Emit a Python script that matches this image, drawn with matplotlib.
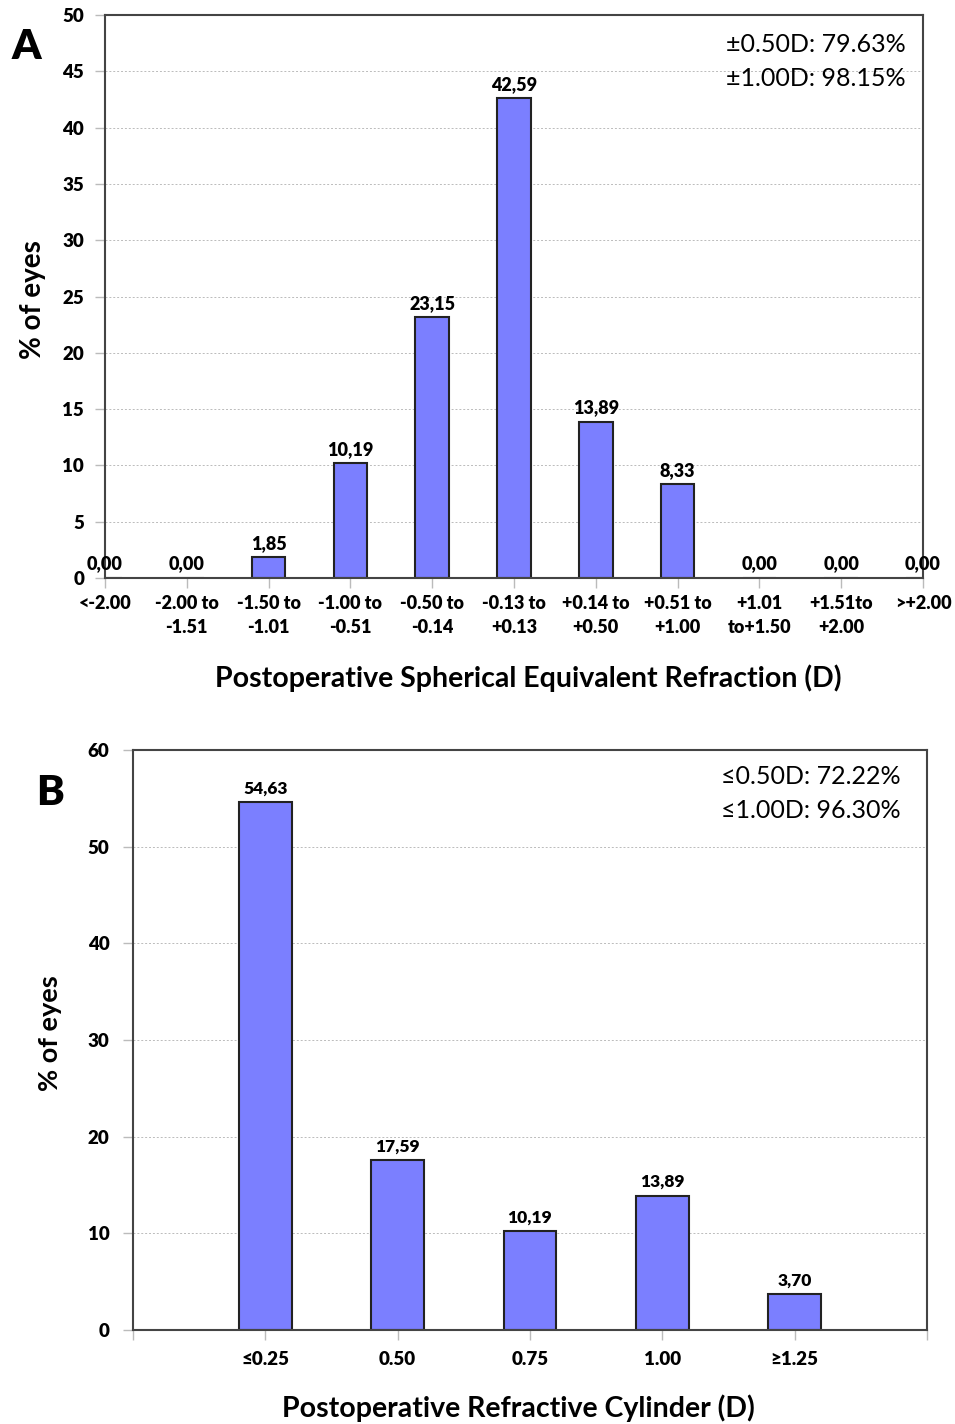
import matplotlib
matplotlib.use('Agg')
import matplotlib.pyplot as plt

plt.rcParams['font.family'] = ['Lato', 'DejaVu Sans']

''' panel A data '''
sphLabels = ['<-2.00', '-2.00 to\n-1.51', '-1.50 to\n-1.01', '-1.00 to\n-0.51',
             '-0.50 to\n-0.14', '-0.13 to\n+0.13', '+0.14 to\n+0.50', '+0.51 to\n+1.00',
             '+1.01\nto+1.50', '+1.51to\n+2.00', '>+2.00']
sphValues = [0.00, 0.00, 1.85, 10.19, 23.15, 42.59, 13.89, 8.33, 0.00, 0.00, 0.00]
sphNote = ['\u00b10.50D: 79.63%', '\u00b11.00D: 98.15%']

''' panel B data '''
cylLabels = ['\u22640.25', '0.50', '0.75', '1.00', '\u22651.25']
cylValues = [54.63, 17.59, 10.19, 13.89, 3.70]
cylNote = ['\u22640.50D: 72.22%', '\u22641.00D: 96.30%']

W, H = 955, 1424
barColor = '#7b7fff'
edgeColor = '#222222'
spineColor = '#444444'
smallWeight = 'heavy'


def fx(px):
    return px / W


def fy(py):
    return 1 - py / H


def styleAxes(ax, ymax, ystep, ylabelSize):
    ax.set_ylim(0, ymax)
    ax.set_yticks(range(0, ymax + 1, ystep))
    ax.yaxis.grid(True, color='#bbbbbb', linestyle=(0, (2, 2)), linewidth=0.7)
    ax.set_axisbelow(True)
    for s in ax.spines.values():
        s.set_color(spineColor)
        s.set_linewidth(1.5)
    ax.tick_params(axis='both', direction='out', length=7, color='#bbbbbb', width=1)
    for t in ax.get_yticklabels():
        t.set_fontweight(smallWeight)
        t.set_fontsize(ylabelSize)


def label(v):
    return ('%.2f' % v).replace('.', ',')


fig = plt.figure(figsize=(W / 100, H / 100), dpi=100)

# panel A
axA = fig.add_axes([fx(105), fy(578), fx(923) - fx(105), fy(15) - fy(578)])
xA = list(range(len(sphValues)))
axA.bar(xA, sphValues, width=0.41, color=barColor, edgecolor=edgeColor, linewidth=1.5)
axA.set_xlim(0, len(sphValues) - 1)
styleAxes(axA, 50, 5, 13.5)
axA.set_xticks(xA)
axA.set_xticklabels(sphLabels, fontsize=13, fontweight=smallWeight, linespacing=1.5)
axA.tick_params(axis='y', pad=8)
axA.tick_params(axis='x', pad=5)
for x, v in zip(xA, sphValues):
    axA.annotate(label(v), (x, v), xytext=(0, 4), textcoords='offset points',
                 ha='center', va='bottom', fontsize=13, fontweight=smallWeight)
fig.text(fx(906), fy(45), sphNote[0], ha='right', va='center', fontsize=18)
fig.text(fx(906), fy(79), sphNote[1], ha='right', va='center', fontsize=18)
fig.text(fx(33), fy(300), '% of eyes', rotation=90, ha='center', va='center',
         fontsize=20, fontweight='bold')
fig.text(fx(528), fy(678), 'Postoperative Spherical Equivalent Refraction (D)',
         ha='center', va='center', fontsize=20.5, fontweight='bold')
fig.text(fx(26), fy(47), 'A', ha='center', va='center', fontsize=30, fontweight='heavy')

# panel B
axB = fig.add_axes([fx(133), fy(1330), fx(927) - fx(133), fy(750) - fy(1330)])
xB = list(range(1, len(cylValues) + 1))
axB.bar(xB, cylValues, width=0.4, color=barColor, edgecolor=edgeColor, linewidth=1.5)
axB.set_xlim(0, len(cylValues) + 1)
styleAxes(axB, 60, 10, 13.5)
axB.set_xticks(range(0, len(cylValues) + 2))
axB.set_xticklabels([''] + cylLabels + [''], fontsize=13.5, fontweight=smallWeight)
axB.tick_params(axis='y', pad=10)
axB.tick_params(axis='x', pad=8)
for x, v in zip(xB, cylValues):
    axB.annotate(label(v), (x, v), xytext=(0, 4), textcoords='offset points',
                 ha='center', va='bottom', fontsize=12.5, fontweight=smallWeight)
fig.text(fx(901), fy(776), cylNote[0], ha='right', va='center', fontsize=18)
fig.text(fx(901), fy(810), cylNote[1], ha='right', va='center', fontsize=18)
fig.text(fx(50), fy(1033), '% of eyes', rotation=90, ha='center', va='center',
         fontsize=19.5, fontweight='bold')
fig.text(fx(518), fy(1408), 'Postoperative Refractive Cylinder (D)',
         ha='center', va='center', fontsize=20.5, fontweight='bold')
fig.text(fx(50), fy(793), 'B', ha='center', va='center', fontsize=30, fontweight='heavy')

fig.savefig('out.png', dpi=100)
